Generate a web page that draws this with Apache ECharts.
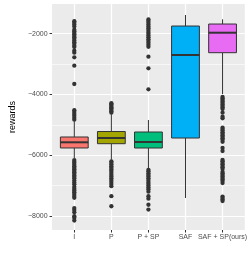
<!DOCTYPE html>
<html>
<head>
<meta charset="utf-8">
<script src="https://cdn.jsdelivr.net/npm/echarts@6/dist/echarts.min.js"></script>
<style>
html,body{margin:0;padding:0;background:#fff;}
#chart{width:249px;height:258px;}
</style>
</head>
<body>
<div id="chart"></div>
<script>
// ---- data ----
var categories = ['I', 'P', 'P + SP', 'SAF', 'SAF + SP(ours)'];
var boxColors = ['#F8766D', '#A3A500', '#00BF7D', '#00B0F6', '#E76BF3'];
var whiskerLow  = [-6092, -6150, -6430, -7409, -3985];
var q1Values    = [-5762, -5621, -5763, -5434, -2625];
var medianVals  = [-5575, -5434, -5566, -2701, -1967];
var q3Values    = [-5400, -5220, -5236, -1747, -1681];
var whiskerHigh = [-4880, -4650, -4841, -1384, -1526];

var outI = [-1590, -1640, -1700, -1765, -1870, -1920, -1975, -2020, -2075, -2120, -2170, -2225, -2280, -2330, -2400, -2440,
  -2560, -2625, -2777, -3053, -3656, -4520, -4580, -4640, -4700, -4770, -4830,
  -6160, -6215, -6260, -6310, -6365, -6410, -6460, -6515, -6560, -6610, -6665, -6710, -6760, -6830, -6900, -6960,
  -7040, -7100, -7160, -7220, -7280, -7340, -7400, -7740, -7800, -7880, -8010, -8060, -8150];
var outP = [-4290, -4330, -4370, -4420, -4460, -4500, -4550, -4600,
  -6200, -6250, -6300, -6360, -6410, -6470, -6520, -6580, -6640, -6700, -6760, -6820, -6880, -6950, -7020, -7350, -7680];
var outPSP = [-1530, -1580, -1640, -1700, -1760, -1820, -1880, -1940, -2000, -2060, -2120, -2180, -2240, -2300, -2360, -2430,
  -2757, -3139, -3830,
  -6480, -6530, -6590, -6650, -6700, -6760, -6820, -6880, -6940, -7000, -7060, -7120, -7200, -7350, -7430, -7630, -7790];
var outSAF = [];
var outSAFSP = [-4084, -4130, -4183, -4230, -4282, -4330, -4381, -4430, -4479, -4601, -4732, -4785, -5094, -5140, -5190,
  -5240, -5290, -5340, -5390, -5440, -5490, -5560, -5763, -5862, -6158, -6200, -6257, -6300, -6356, -6400, -6454,
  -6553, -6600, -6652, -6700, -6751, -6800, -6850, -6916, -7360, -7410, -7460, -7510];

var yTicks = [-8000, -6000, -4000, -2000];
var yMinorTicks = [-7000, -5000, -3000];

// ---- build ----
var outlierLists = [outI, outP, outPSP, outSAF, outSAFSP];
var boxData = categories.map(function (c, i) {
  return [i + 1, whiskerLow[i], q1Values[i], medianVals[i], q3Values[i], whiskerHigh[i]];
});
var outlierData = [];
outlierLists.forEach(function (list, i) {
  list.forEach(function (v) { outlierData.push([i + 1, v]); });
});
var catPositions = categories.map(function (c, i) { return i + 1; });

var FONT = 'Liberation Sans, Arial, sans-serif';

function renderBox(params, api) {
  var x = api.value(0);
  var pMin = api.coord([x, api.value(1)]);
  var pQ1 = api.coord([x, api.value(2)]);
  var pMed = api.coord([x, api.value(3)]);
  var pQ3 = api.coord([x, api.value(4)]);
  var pMax = api.coord([x, api.value(5)]);
  var w = api.size([0.75, 0])[0];
  var cx = pMed[0];
  var stroke = '#333333';
  return {
    type: 'group',
    children: [
      { type: 'line', shape: { x1: cx, y1: pMax[1], x2: cx, y2: pQ3[1] }, style: { stroke: stroke, lineWidth: 1 } },
      { type: 'line', shape: { x1: cx, y1: pQ1[1], x2: cx, y2: pMin[1] }, style: { stroke: stroke, lineWidth: 1 } },
      { type: 'rect', shape: { x: cx - w / 2, y: pQ3[1], width: w, height: pQ1[1] - pQ3[1] },
        style: { fill: boxColors[params.dataIndex], stroke: stroke, lineWidth: 1 } },
      { type: 'line', shape: { x1: cx - w / 2, y1: pMed[1], x2: cx + w / 2, y2: pMed[1] }, style: { stroke: stroke, lineWidth: 2 } }
    ]
  };
}

var chart = echarts.init(document.getElementById('chart'), null, { renderer: 'canvas' });
chart.setOption({
  animation: false,
  backgroundColor: '#ffffff',
  grid: {
    left: 42, right: 4, top: 4, bottom: 28,
    show: true, backgroundColor: '#EBEBEB', borderWidth: 0
  },
  xAxis: {
    type: 'value', min: 0.4, max: 5.6,
    axisLine: { show: false },
    axisTick: { show: true, customValues: catPositions, length: 2.5, lineStyle: { color: '#333333', width: 1 } },
    axisLabel: {
      customValues: catPositions, margin: 4, fontSize: 7, color: '#4D4D4D', fontFamily: FONT,
      formatter: function (v) { return categories[Math.round(v) - 1]; }
    },
    splitLine: { show: true, lineStyle: { color: '#ffffff', width: 1.2 } }
  },
  yAxis: [{
    type: 'value', min: -8462, max: -1022,
    name: 'rewards', nameLocation: 'middle', nameRotate: 90, nameGap: 30,
    nameTextStyle: { fontSize: 9, color: '#000000', fontFamily: FONT },
    axisLine: { show: false },
    axisTick: { show: true, customValues: yTicks, length: 2.5, lineStyle: { color: '#333333', width: 1 } },
    axisLabel: {
      customValues: yTicks, margin: 4.5, fontSize: 7, color: '#4D4D4D', fontFamily: FONT,
      formatter: function (v) { return String(v).replace('-', '\u2212'); }
    },
    splitLine: { show: true, lineStyle: { color: '#ffffff', width: 1.2 } },
    z: 1
  }, {
    type: 'value', min: -8462, max: -1022, position: 'left',
    axisLine: { show: false },
    axisTick: { show: false, customValues: yMinorTicks },
    axisLabel: { show: false, customValues: yMinorTicks },
    splitLine: { show: true, lineStyle: { color: '#ffffff', width: 0.6 } }
  }],
  series: [{
    type: 'custom',
    renderItem: renderBox,
    data: boxData,
    encode: { x: 0, y: [1, 2, 3, 4, 5] },
    z: 3
  }, {
    type: 'scatter',
    data: outlierData,
    symbol: 'circle',
    symbolSize: 4.3,
    itemStyle: { color: '#333333', opacity: 1 },
    z: 4
  }]
});
</script>
</body>
</html>
